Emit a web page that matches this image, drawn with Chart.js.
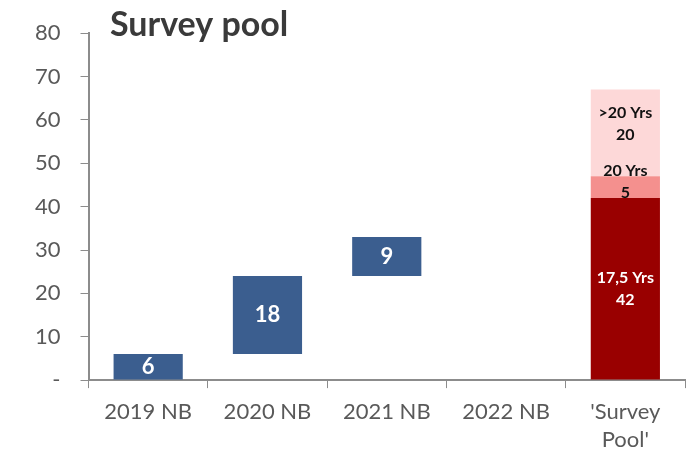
<!DOCTYPE html>
<html>
<head>
<meta charset="utf-8">
<script src="https://cdn.jsdelivr.net/npm/chart.js@4/dist/chart.umd.min.js"></script>
<style>
  body { margin: 0; background: #fff; }
  #wrap { width: 692px; height: 457px; }
</style>
</head>
<body>
<div id="wrap"><canvas id="chart" width="692" height="457"></canvas></div>
<script>
const categories = ["2019 NB", "2020 NB", "2021 NB", "2022 NB", ["'Survey", "Pool'"]];
// yearly increments, drawn as a waterfall
const increments = [6, 18, 9, 0];
// survey pool breakdown
const poolLabels = ["17,5 Yrs", "20 Yrs", ">20 Yrs"];
const poolValues = [42, 5, 20];
const yTicks = [0, 10, 20, 30, 40, 50, 60, 70, 80];

const FONT = "Lato, 'Open Sans', sans-serif";
const BLUE = "#3B5E8F";
const poolColors = ["#990000", "#F4908E", "#FDD8D8"];
const poolText = ["#ffffff", "#111111", "#111111"];
// small upward nudge so the thin segment labels don't collide
const poolLabelShift = [0, -5, -9];

// floating [start, end] pairs for the increments
let running = 0;
const waterfall = increments.map(v => {
  const seg = v ? [running, running + v] : null;
  running += v;
  return seg;
});
waterfall.push(null);

const datasets = [{
  data: waterfall,
  backgroundColor: BLUE,
  grouped: false,
  barPercentage: 0.58,
  categoryPercentage: 1,
  labelColor: "#ffffff",
  labelText: increments.map(v => [String(v)]),
  labelSize: 22,
  labelShift: 0
}];

let base = 0;
poolValues.forEach((v, i) => {
  const d = categories.map(() => null);
  d[categories.length - 1] = [base, base + v];
  base += v;
  const txt = categories.map(() => null);
  txt[categories.length - 1] = [poolLabels[i], String(v)];
  datasets.push({
    data: d,
    backgroundColor: poolColors[i],
    grouped: false,
    barPercentage: 0.58,
    categoryPercentage: 1,
    labelColor: poolText[i],
    labelText: txt,
    labelSize: 16,
    labelShift: poolLabelShift[i]
  });
});

const barLabels = {
  id: "barLabels",
  afterDatasetsDraw(chart) {
    const ctx = chart.ctx;
    ctx.save();
    ctx.textAlign = "center";
    ctx.textBaseline = "middle";
    chart.data.datasets.forEach((ds, di) => {
      chart.getDatasetMeta(di).data.forEach((bar, i) => {
        const lines = ds.labelText[i];
        if (!lines || !ds.data[i]) return;
        const cy = (bar.y + bar.base) / 2 + ds.labelShift;
        ctx.fillStyle = ds.labelColor;
        ctx.font = "bold " + ds.labelSize + "px " + FONT;
        const gap = 22;
        lines.forEach((t, k) => {
          ctx.fillText(t, bar.x, cy + (k - (lines.length - 1) / 2) * gap);
        });
      });
    });
    ctx.fillStyle = "#3a3a3a";
    ctx.font = "bold 34px " + FONT;
    ctx.textAlign = "left";
    ctx.fillText("Survey pool", 110, 25);
    ctx.restore();
  }
};

new Chart(document.getElementById("chart"), {
  type: "bar",
  data: { labels: categories, datasets },
  options: {
    responsive: false,
    animation: false,
    layout: { padding: { top: 15, right: 7, left: 15, bottom: -7 } },
    plugins: { legend: { display: false }, tooltip: { enabled: false } },
    scales: {
      x: {
        grid: { drawOnChartArea: false, color: "#8c8c8c", tickLength: 8, offset: true },
        border: { color: "#8c8c8c", width: 2 },
        ticks: { color: "#595959", padding: 10, font: { family: FONT, size: 22, lineHeight: 1.27 } }
      },
      y: {
        min: 0,
        max: 80,
        afterBuildTicks(scale) { scale.ticks = yTicks.map(v => ({ value: v })); },
        grid: { drawOnChartArea: false, color: "#8c8c8c", tickLength: 8 },
        border: { color: "#8c8c8c", width: 2 },
        ticks: {
          color: "#595959",
          padding: 20,
          font: { family: FONT, size: 22 },
          callback: v => (v === 0 ? "-" : v)
        }
      }
    }
  },
  plugins: [barLabels]
});
</script>
</body>
</html>
